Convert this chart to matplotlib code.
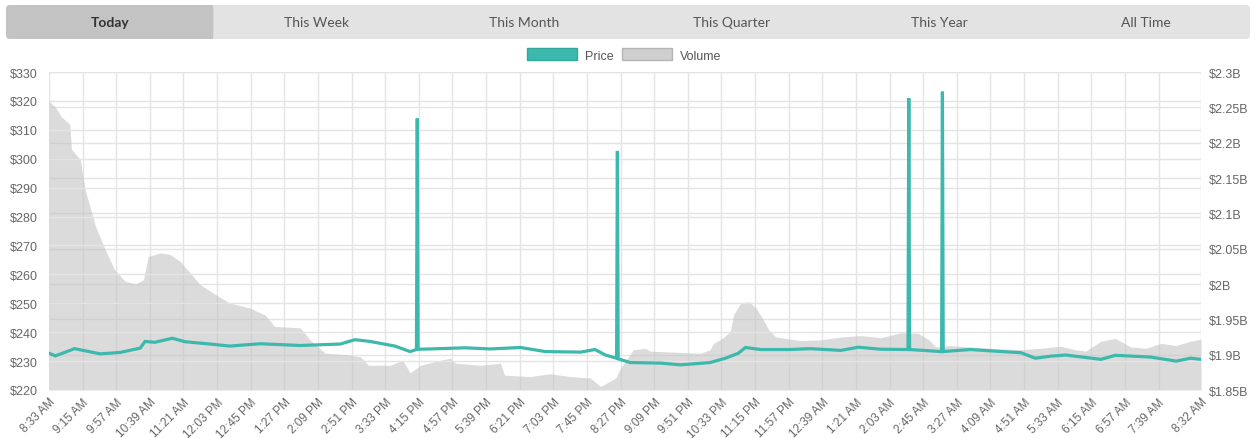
import matplotlib.pyplot as plt
from matplotlib.patches import FancyBboxPatch, Rectangle, Patch

plt.rcParams['font.family'] = ['Liberation Sans', 'DejaVu Sans']
plt.rcParams['font.size'] = 9

# minutes since 8:33 AM
tick_labels = ['8:33 AM', '9:15 AM', '9:57 AM', '10:39 AM', '11:21 AM', '12:03 PM', '12:45 PM',
               '1:27 PM', '2:09 PM', '2:51 PM', '3:33 PM', '4:15 PM', '4:57 PM', '5:39 PM',
               '6:21 PM', '7:03 PM', '7:45 PM', '8:27 PM', '9:09 PM', '9:51 PM', '10:33 PM',
               '11:15 PM', '11:57 PM', '12:39 AM', '1:21 AM', '2:03 AM', '2:45 AM', '3:27 AM',
               '4:09 AM', '4:51 AM', '5:33 AM', '6:15 AM', '6:57 AM', '7:39 AM', '8:32 AM']
tick_minutes = [0, 42, 84, 126, 168, 210, 252, 294, 336, 378, 420, 462, 504, 546, 588, 630,
                672, 714, 756, 798, 840, 882, 924, 966, 1008, 1050, 1092, 1134, 1176, 1218,
                1260, 1302, 1344, 1386, 1439]

price_t = [0, 8, 32, 64, 89, 114, 120, 132, 154, 170, 201, 226, 264, 314, 364, 382, 401,
           432, 451, 459, 460, 461, 476, 520, 551, 589, 620, 664, 682, 695, 709, 710, 711,
           726, 764, 789, 826, 845, 861, 870, 889, 926, 951, 989, 1011, 1039, 1073, 1074,
           1075, 1114, 1115, 1116, 1117, 1151, 1189, 1214, 1232, 1251, 1270, 1314, 1332,
           1376, 1408, 1426, 1439]
price = [232.7, 231.8, 234.3, 232.5, 233.0, 234.5, 236.8, 236.5, 237.9, 236.7, 235.9, 235.2,
         236.0, 235.4, 235.9, 237.4, 236.8, 235.2, 233.3, 234.0, 313.9, 234.1, 234.2, 234.6,
         234.2, 234.7, 233.3, 233.1, 234.0, 232.1, 231.0, 302.7, 230.8, 229.5, 229.3, 228.7,
         229.5, 231.0, 232.7, 234.7, 234.0, 234.0, 234.3, 233.7, 234.8, 234.1, 234.0, 320.9,
         234.0, 233.3, 233.3, 323.2, 233.3, 234.0, 233.3, 232.9, 231.0, 231.7, 232.1, 230.6,
         232.0, 231.4, 230.0, 231.0, 230.6]

volume_t = [0, 8, 16, 26, 28, 39, 45, 58, 70, 82, 95, 108, 118, 124, 139, 151, 164, 176, 189,
            208, 226, 251, 270, 282, 314, 326, 345, 370, 389, 399, 426, 442, 451, 464, 489,
            501, 508, 539, 564, 569, 601, 626, 651, 676, 689, 708, 714, 730, 745, 751, 814,
            826, 830, 841, 851, 855, 864, 874, 883, 891, 899, 908, 939, 964, 989, 1014, 1039,
            1064, 1086, 1099, 1108, 1126, 1149, 1176, 1214, 1239, 1264, 1282, 1295, 1314,
            1332, 1351, 1370, 1389, 1408, 1426, 1439]
volume_b = [2.259, 2.25, 2.236, 2.226, 2.191, 2.176, 2.134, 2.082, 2.049, 2.02, 2.004, 2.0,
            2.006, 2.039, 2.044, 2.042, 2.032, 2.016, 1.999, 1.985, 1.973, 1.966, 1.956, 1.94,
            1.938, 1.921, 1.902, 1.9, 1.897, 1.885, 1.885, 1.892, 1.874, 1.885, 1.892, 1.895,
            1.888, 1.885, 1.888, 1.871, 1.869, 1.873, 1.869, 1.867, 1.855, 1.867, 1.881, 1.907,
            1.909, 1.905, 1.902, 1.907, 1.916, 1.923, 1.933, 1.956, 1.973, 1.975, 1.966, 1.952,
            1.935, 1.925, 1.92, 1.921, 1.925, 1.927, 1.924, 1.931, 1.93, 1.921, 1.911, 1.913,
            1.911, 1.909, 1.907, 1.909, 1.912, 1.907, 1.905, 1.919, 1.923, 1.911, 1.909, 1.916,
            1.913, 1.919, 1.922]

price_ticks = [220, 230, 240, 250, 260, 270, 280, 290, 300, 310, 320, 330]
volume_ticks = [1.85, 1.9, 1.95, 2.0, 2.05, 2.1, 2.15, 2.2, 2.25, 2.3]
volume_labels = ['$1.85B', '$1.9B', '$1.95B', '$2B', '$2.05B', '$2.1B', '$2.15B', '$2.2B',
                 '$2.25B', '$2.3B']
tabs = ['Today', 'This Week', 'This Month', 'This Quarter', 'This Year', 'All Time']

teal = '#3cb9ac'
grid_c = '#e4e4e4'
text_c = '#666666'

fig = plt.figure(figsize=(12.56, 4.39), dpi=100)

# volume on the base axes (right scale), price on the twin (left scale)
ax = fig.add_axes([49 / 1256, 1 - 391 / 439, 1152 / 1256, 318 / 439])
ax2 = ax.twinx()

ax.fill_between(volume_t, 1.85, volume_b, color='#c4c4c4', alpha=0.6, lw=0, zorder=2)
ax.set_xlim(0, 1439)
ax.set_ylim(1.85, 2.3)
ax.set_yticks(volume_ticks)
ax.set_yticklabels(volume_labels)
ax.set_xticks(tick_minutes)
ax.set_xticklabels(tick_labels, rotation=45, ha='right', rotation_mode='anchor')
ax.grid(True, color=grid_c, lw=1, zorder=0)
ax.set_axisbelow(True)
ax.tick_params(axis='y', length=0, colors=text_c, labelsize=9, pad=6,
               left=False, labelleft=False, right=True, labelright=True)
ax.tick_params(axis='x', length=0, colors=text_c, labelsize=8.5, pad=4)
for s in ax.spines.values():
    s.set_visible(False)

ax2.plot(price_t, price, color=teal, lw=2.3, solid_joinstyle='miter', zorder=3)
ax2.set_ylim(220, 330)
ax2.set_yticks(price_ticks)
ax2.set_yticklabels(['$%d' % v for v in price_ticks])
ax2.grid(True, axis='y', color=grid_c, lw=1)
ax2.tick_params(axis='y', length=0, colors=text_c, labelsize=9, pad=8,
                left=True, labelleft=True, right=False, labelright=False)
for s in ax2.spines.values():
    s.set_visible(False)

handles = [Patch(facecolor=teal, edgecolor='#35a89c'),
           Patch(facecolor='#cfcfcf', edgecolor='#b5b5b5')]
fig.legend(handles, ['Price', 'Volume'], loc='center', bbox_to_anchor=(0.497, 1 - 56 / 439),
           ncol=2, frameon=False, handlelength=4.0, handleheight=1.1, handletextpad=0.6,
           columnspacing=0.7, labelcolor='#555555', fontsize=9)

# tab bar on top, in pixel units
top = fig.add_axes([0, 0, 1, 1], zorder=-1)
top.set_xlim(0, 1256)
top.set_ylim(439, 0)
top.axis('off')
top.add_patch(FancyBboxPatch((6, 6), 1244, 34, boxstyle='round,pad=0,rounding_size=4',
                             fc='#e3e3e3', ec='none'))
tab_w = 1244 / len(tabs)
top.add_patch(FancyBboxPatch((6, 6), tab_w, 34, boxstyle='round,pad=0,rounding_size=4',
                             fc='#c3c3c3', ec='none'))
top.add_patch(Rectangle((6 + tab_w - 8, 6), 8, 34, fc='#c3c3c3', ec='none'))
for i, name in enumerate(tabs):
    top.text(6 + tab_w * (i + 0.5), 23, name, ha='center', va='center', fontsize=10,
             family=['Lato', 'DejaVu Sans'], color='#333333' if i == 0 else '#555555',
             fontweight='bold' if i == 0 else 'normal')

fig.savefig('out.png', dpi=100)
